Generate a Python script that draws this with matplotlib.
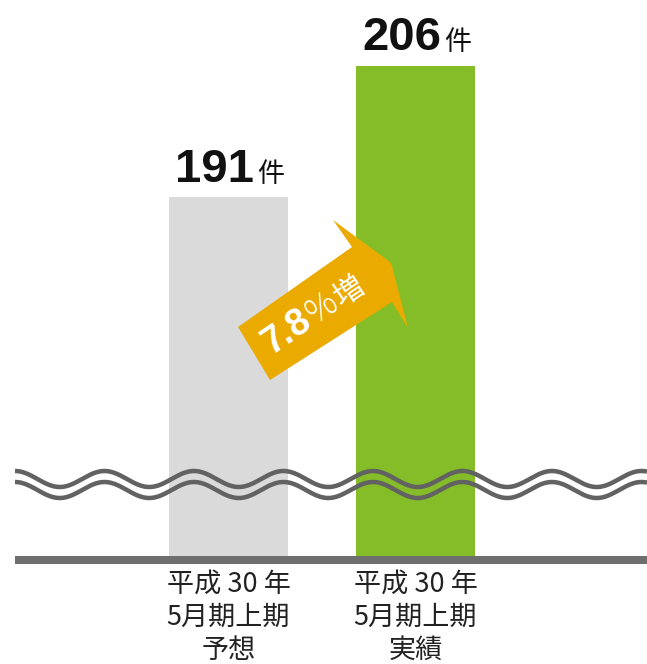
import numpy as np
import matplotlib
matplotlib.use("Agg")
import matplotlib.pyplot as plt
from matplotlib.lines import Line2D
from matplotlib.patches import Polygon

# ---- data ----
categories = ["平成 30 年\n5月期上期\n予想", "平成 30 年\n5月期上期\n実績"]
values = [191, 206]
value_labels = ["191", "206"]
unit = "件"
bar_colors = ["#DADADA", "#84BD27"]
growth_pct = "7.8"
growth_suffix = "増"
axis_floor = 150  # broken axis: visible range starts here

W, H = 647, 664
DPI = 100
fig = plt.figure(figsize=(W / DPI, H / DPI), dpi=DPI)
fig.patch.set_facecolor("white")

def fx(x):
    return x / W

def fy(y):
    return 1 - y / H

# axes spanning the full width, bottom at the baseline
ax_bottom_px = 556
ax = fig.add_axes([0, fy(ax_bottom_px), 1, ax_bottom_px / H])
ax.set_facecolor("none")
px_per_unit = 8.75
ax.set_ylim(axis_floor, axis_floor + ax_bottom_px / px_per_unit)
slot = 187.0
ax.set_xlim(-228.5 / slot, (W - 228.5) / slot)
x = np.arange(len(values))
ax.bar(x, values, width=119 / slot, color=bar_colors, zorder=1)
for s in ax.spines.values():
    s.set_visible(False)
ax.set_yticks([])
ax.set_xticks(x)
ax.set_xticklabels(categories, fontsize=19.5, family=["Noto Sans CJK JP", "DejaVu Sans"],
                   color="#222222", linespacing=1.3)
ax.tick_params(axis="x", length=0, pad=10.5)

# value labels
pt = 72 / DPI
for xi, v, lab in zip(x, values, value_labels):
    ax.annotate(lab, xy=(xi, v), xytext=(26 * pt, 15.5 * pt), textcoords="offset points",
                ha="right", va="baseline", fontsize=34, fontweight="bold",
                family="Liberation Sans", color="#111111", annotation_clip=False)
    ax.annotate(unit, xy=(xi, v), xytext=(29 * pt, 15.5 * pt), textcoords="offset points",
                ha="left", va="baseline", fontsize=19.5, family="Noto Sans CJK JP",
                color="#111111", annotation_clip=False)

# baseline
fig.add_artist(Line2D([fx(15), fx(W)], [fy(560), fy(560)], color="#6E6E6E",
                      linewidth=8 * pt, solid_capstyle="butt", zorder=5))

# wavy break marks
xs = np.linspace(15, W, 600)
period = 89.5
for off in (0, 11):
    ys = 479 + off - 8 * np.cos(2 * np.pi * (xs - 15) / period)
    fig.add_artist(Line2D(fx(xs), fy(ys), color="#626262", linewidth=4.5 * pt,
                          solid_capstyle="butt", zorder=5))

# growth arrow
arrow_px = [(238, 327), (352, 247), (333, 220), (390, 262), (392, 266),
            (408, 328), (392, 302), (270, 380)]
arrow = Polygon([(fx(a), fy(b)) for a, b in arrow_px], closed=True,
                transform=fig.transFigure, facecolor="#EBAA00", edgecolor="none", zorder=6)
fig.add_artist(arrow)

ang = 34.0
d = np.array([np.cos(np.radians(ang)), -np.sin(np.radians(ang))])
origin = np.array([271.0, 355.0])
def along(s):
    p = origin + s * d
    return fx(p[0]), fy(p[1])

parts = [
    (0, "7", dict(fontsize=27, fontweight="bold", family="Liberation Sans")),
    (19, ".", dict(fontsize=27, fontweight="bold", family="Liberation Sans")),
    (30, "8", dict(fontsize=27, fontweight="bold", family="Liberation Sans")),
    (53, "%", dict(fontsize=25, fontweight="light", family="Noto Sans CJK JP")),
    (85, growth_suffix, dict(fontsize=22, family="Noto Sans CJK JP")),
]
for s, txt, kw in parts:
    px_, py_ = along(s)
    fig.text(px_, py_, txt, rotation=ang, rotation_mode="anchor", ha="left",
             va="baseline", color="white", zorder=7, **kw)

fig.savefig("out.png", dpi=DPI, facecolor="white")
